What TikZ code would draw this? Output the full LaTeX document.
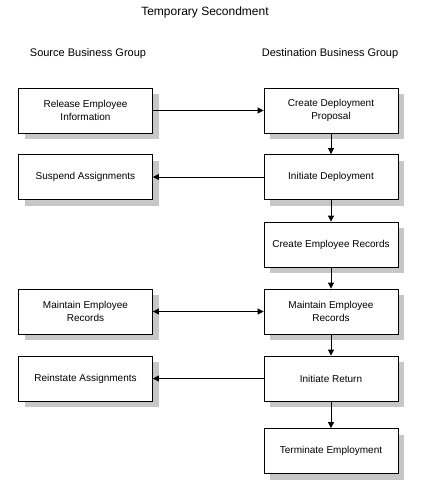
\documentclass[tikz,border=0pt]{standalone}
\usepackage{fontspec}
\setmainfont{Liberation Sans}
\usepackage{tikz}
\usetikzlibrary{arrows.meta,positioning,shadows}

\begin{document}
\begin{tikzpicture}[x=1pt,y=-1pt,
  task/.style={draw=black,line width=0.8pt,fill=white,minimum width=134pt,minimum height=45pt,
    align=center,font=\fontsize{10}{12.5}\selectfont,
    drop shadow={shadow xshift=6pt,shadow yshift=-6pt,fill=black!22,opacity=1}},
  head/.style={font=\fontsize{11}{13}\selectfont},
  flow/.style={line width=0.8pt,-{Triangle[length=6pt,width=6pt]}},
  both/.style={line width=0.8pt,{Triangle[length=6pt,width=6pt]}-{Triangle[length=6pt,width=6pt]}}]
\useasboundingbox (0,0) rectangle (423,481);
% headings
\node[head,font=\fontsize{12}{14}\selectfont] (title) at (205,12) {Temporary Secondment};
\node[head] (src) at (88,54) {Source Business Group};
\node[head] (dst) at (330,54) {Destination Business Group};
% source business group
\node[task] (release) at (85.5,110.5) {Release Employee\\Information};
\node[task] (suspend) at (85.5,177) {Suspend Assignments};
\node[task] (maintainS) at (85.5,311.5) {Maintain Employee\\Records};
\node[task] (reinstate) at (85.5,378.5) {Reinstate Assignments};
% destination business group
\node[task] (proposal) at (331,110.5) {Create Deployment\\Proposal};
\node[task] (deploy) at (331,177) {Initiate Deployment};
\node[task] (records) at (331,244.5) {Create Employee Records};
\node[task] (maintainD) at (331,311.5) {Maintain Employee\\Records};
\node[task] (return) at (331,378.5) {Initiate Return};
\node[task] (terminate) at (331,451) {Terminate Employment};
% connectors
\draw[flow] (release) -- (proposal);
\draw[flow] (proposal) -- (deploy);
\draw[flow] (deploy) -- (suspend);
\draw[flow] (deploy) -- (records);
\draw[flow] (records) -- (maintainD);
\draw[both] (maintainS) -- (maintainD);
\draw[flow] (maintainD) -- (return);
\draw[flow] (return) -- (reinstate);
\draw[flow] (return) -- (terminate);
\end{tikzpicture}
\end{document}
